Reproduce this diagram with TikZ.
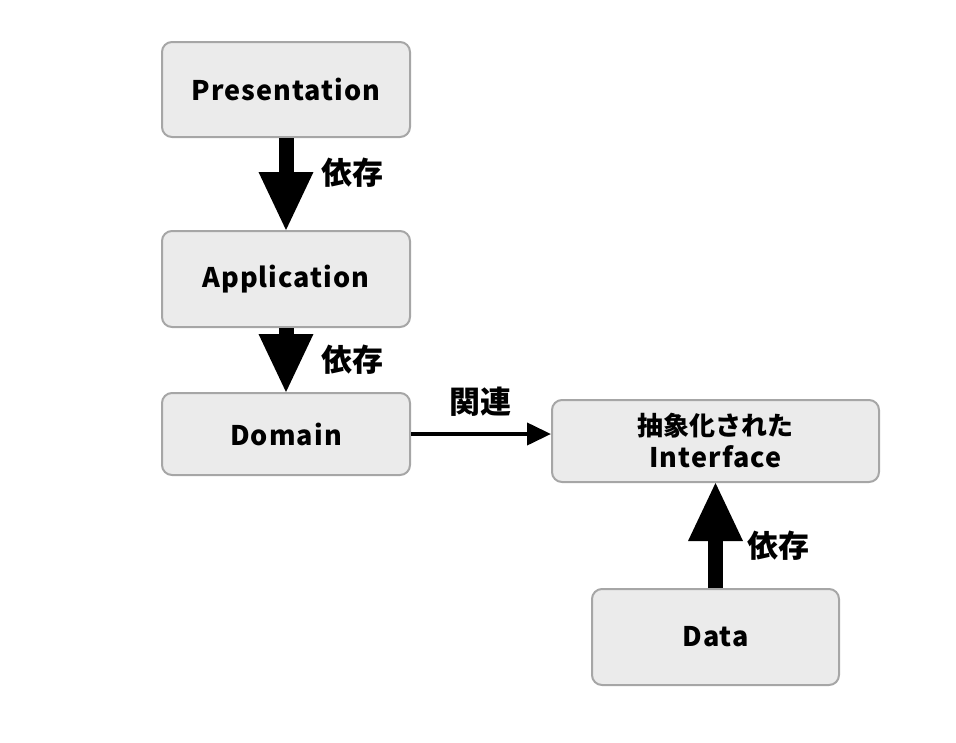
\documentclass[tikz,border=0pt]{standalone}
\usepackage{fontspec}
\setmainfont{Noto Sans CJK JP}[LetterSpace=4]
\newfontfamily\jplabel{Noto Sans CJK JP}
\usetikzlibrary{arrows.meta}
\tikzset{
  layerbox/.style={draw=black!35, fill=black!8, line width=2pt, rounded corners=10pt, inner sep=0pt,
    font=\fontsize{27}{32}\selectfont\bfseries, align=center},
  bigarrow/.style={line width=15pt, -{Triangle[length=60pt,width=50pt]}, shorten >=-2pt},
  thinarrow/.style={line width=4pt, -{Triangle[length=24pt,width=22pt]}},
  lbl/.style={font=\jplabel\fontsize{31}{34}\selectfont\bfseries, inner sep=0pt}
}
\begin{document}
\begin{tikzpicture}[x=1pt,y=-1pt]
\useasboundingbox (0,0) rectangle (956,742);
\node[layerbox, minimum width=248pt, minimum height=95pt] (pres) at (286,89.5) {Presentation};
\node[layerbox, minimum width=248pt, minimum height=96pt] (app) at (286,279) {Application};
\node[layerbox, minimum width=248pt, minimum height=82pt] (dom) at (286,434) {Domain};
\node[layerbox, minimum width=327pt, minimum height=82pt] (intf) at (715.5,441) {{\jplabel\fontsize{26}{32}\selectfont\bfseries 抽象化された}\\Interface};
\node[layerbox, minimum width=247pt, minimum height=96pt] (data) at (715.5,637) {Data};
\draw[bigarrow] (pres.south) -- (app.north);
\draw[bigarrow] (app.south) -- (dom.north);
\draw[bigarrow] (data.north) -- (intf.south);
\draw[thinarrow] (dom.east) -- (dom.east -| intf.west);
\node[lbl] (l1) at (352,173) {依存};
\node[lbl] (l2) at (352,360) {依存};
\node[lbl] (l3) at (480,402) {関連};
\node[lbl] (l4) at (778,546) {依存};
\end{tikzpicture}
\end{document}
